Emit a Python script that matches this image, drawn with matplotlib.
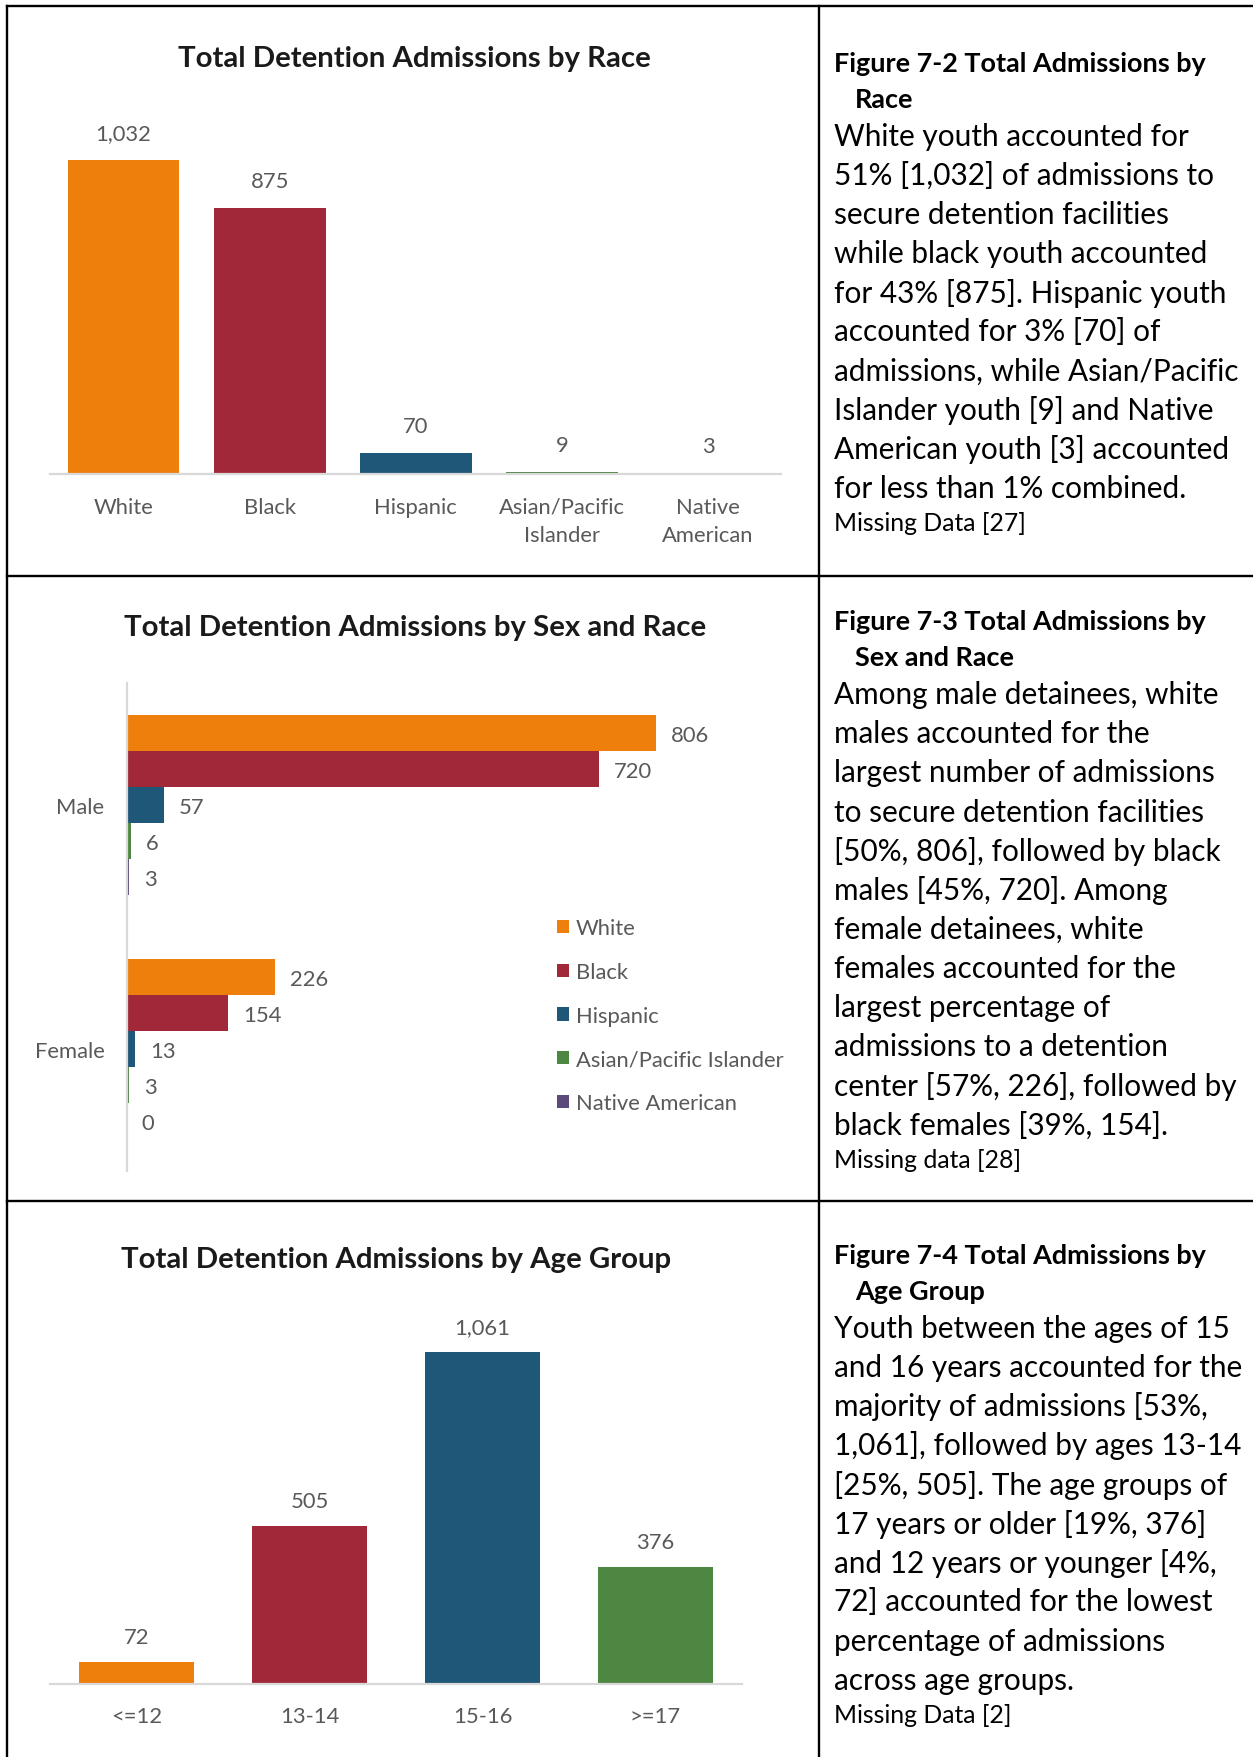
import matplotlib
matplotlib.use('Agg')
import matplotlib.pyplot as plt
from matplotlib.lines import Line2D
from matplotlib.textpath import TextPath
from matplotlib.font_manager import FontProperties
import numpy as np

# ---------------- data ----------------
race_categories = ['White', 'Black', 'Hispanic', 'Asian/Pacific\nIslander', 'Native\nAmerican']
race_totals = [1032, 875, 70, 9, 3]
race_value_labels = ['1,032', '875', '70', '9', '3']

sex_categories = ['Male', 'Female']
sex_series = ['White', 'Black', 'Hispanic', 'Asian/Pacific Islander', 'Native American']
male_values = [806, 720, 57, 6, 3]
female_values = [226, 154, 13, 3, 0]

age_categories = ['<=12', '13-14', '15-16', '>=17']
age_totals = [72, 505, 1061, 376]
age_value_labels = ['72', '505', '1,061', '376']

titles = ['Total Detention Admissions by Race',
          'Total Detention Admissions by Sex and Race',
          'Total Detention Admissions by Age Group']

headings = [('Figure 7-2 Total Admissions by', 'Race'),
            ('Figure 7-3 Total Admissions by', 'Sex and Race'),
            ('Figure 7-4 Total Admissions by', 'Age Group')]

bodies = [
    ['White youth accounted for',
     '51% [1,032] of admissions to',
     'secure detention facilities',
     'while black youth accounted',
     'for 43% [875]. Hispanic youth',
     'accounted for 3% [70] of',
     'admissions, while Asian/Pacific',
     'Islander youth [9] and Native',
     'American youth [3] accounted',
     'for less than 1% combined.'],
    ['Among male detainees, white',
     'males accounted for the',
     'largest number of admissions',
     'to secure detention facilities',
     '[50%, 806], followed by black',
     'males [45%, 720]. Among',
     'female detainees, white',
     'females accounted for the',
     'largest percentage of',
     'admissions to a detention',
     'center [57%, 226], followed by',
     'black females [39%, 154].'],
    ['Youth between the ages of 15',
     'and 16 years accounted for the',
     'majority of admissions [53%,',
     '1,061], followed by ages 13-14',
     '[25%, 505]. The age groups of',
     '17 years or older [19%, 376]',
     'and 12 years or younger [4%,',
     '72] accounted for the lowest',
     'percentage of admissions',
     'across age groups.'],
]
missing_notes = ['Missing Data [27]', 'Missing data [28]', 'Missing Data [2]']

# ---------------- style ----------------
ORANGE = '#EE7F0C'
RED = '#A12838'
BLUE = '#1F5779'
GREEN = '#4E8742'
PURPLE = '#5B4A7B'
race_colors = [ORANGE, RED, BLUE, GREEN, PURPLE]
age_colors = [ORANGE, RED, BLUE, GREEN]
GRAY_TXT = '#595959'
AXIS_GRAY = '#D9D9D9'
FONT = 'Lato'

W, H, DPI = 1253, 1758, 100
DW, DH = 1118, 1568   # layout measured on the shrunk view


def fx(x):
    return x / DW


def fy(y):
    return 1 - y / DH


def rect(x0, y0, x1, y1):
    return [fx(x0), fy(y1), (x1 - x0) / DW, (y1 - y0) / DH]


def fit(s, target_disp, weight='normal'):
    fp = FontProperties(family=FONT, weight=weight, size=100)
    w = TextPath((0, 0), s, prop=fp).get_extents().width
    target_pt = target_disp * W / DW * 72 / DPI
    return 100 * target_pt / w


FS_BODY = fit('admissions, while Asian/Pacific', 359)
FS_HEAD = fit('Figure 7-2 Total Admissions by', 330, 'bold')
FS_MISS = fit('Missing Data [27]', 167)
FS_TITLE = fit('Total Detention Admissions by Race', 421, 'bold')
FS_CHART = fit('Asian/Pacific Islander', 185)

plt.rcParams['font.family'] = [FONT, 'DejaVu Sans']

fig = plt.figure(figsize=(W / DPI, H / DPI), dpi=DPI)

# ---------------- table grid ----------------
lw = 1.7
for (x0, y0, x1, y1) in [(6, 6, 1118, 6), (6, 6, 6, 1568), (731, 6, 731, 1568),
                         (6, 515, 1118, 515), (6, 1072, 1118, 1072)]:
    fig.add_artist(Line2D([fx(x0), fx(x1)], [fy(y0), fy(y1)], color='black',
                          lw=lw, transform=fig.transFigure))


def style_axes(ax, keep):
    for side in ['top', 'right', 'left', 'bottom']:
        if side == keep:
            ax.spines[side].set_color(AXIS_GRAY)
            ax.spines[side].set_linewidth(1.6)
        else:
            ax.spines[side].set_visible(False)
    ax.tick_params(length=0, colors=GRAY_TXT, labelsize=FS_CHART)
    ax.patch.set_alpha(0)


# ---------------- panel 1: race ----------------
ax1 = fig.add_axes(rect(45, 100, 697, 424))
x = np.arange(len(race_categories))
ax1.bar(x, race_totals, width=0.766, color=race_colors)
ax1.set_xlim(-0.5, len(race_categories) - 0.5)
ax1.set_ylim(0, max(race_totals) * (424 - 100) / (424 - 144))
ax1.set_xticks(x)
ax1.set_xticklabels(race_categories, linespacing=1.5)
ax1.set_yticks([])
style_axes(ax1, 'bottom')
ax1.tick_params(axis='x', pad=16)
for xi, v, lbl in zip(x, race_totals, race_value_labels):
    ax1.annotate(lbl, (xi, v), xytext=(0, 27), textcoords='offset pixels',
                 ha='center', va='center', color=GRAY_TXT, fontsize=FS_CHART)

# ---------------- panel 2: sex and race ----------------
ax2 = fig.add_axes(rect(113, 610, 700, 1045))
h = 32 / 217
ypos = np.arange(len(sex_categories))
series_vals = list(zip(male_values, female_values))
for j, (name, col) in enumerate(zip(sex_series, race_colors)):
    vals = series_vals[j]
    yy = ypos + (j - 2) * h
    ax2.barh(yy, vals, height=h, color=col, label=name)
    for yv, v in zip(yy, vals):
        ax2.annotate(str(v), (v, yv), xytext=(15, -2), textcoords='offset pixels',
                     ha='left', va='center', color=GRAY_TXT, fontsize=FS_CHART)
ax2.set_ylim(len(sex_categories) - 0.5, -0.5)
ax2.set_xlim(0, max(male_values) * (700 - 113) / (585 - 113))
ax2.set_yticks(ypos)
ax2.set_yticklabels(sex_categories)
ax2.set_xticks([])
style_axes(ax2, 'left')
ax2.tick_params(axis='y', pad=16)
leg = ax2.legend(loc='upper left', bbox_to_anchor=(fx(497), fy(820)),
                 bbox_transform=fig.transFigure, frameon=False,
                 handlelength=0.55, handleheight=0.55, handletextpad=0.3,
                 labelspacing=1.08, borderpad=0, borderaxespad=0,
                 fontsize=FS_CHART)
for t in leg.get_texts():
    t.set_color(GRAY_TXT)

# ---------------- panel 3: age ----------------
ax3 = fig.add_axes(rect(45, 1160, 662, 1503))
xa = np.arange(len(age_categories))
ax3.bar(xa, age_totals, width=0.666, color=age_colors)
ax3.set_xlim(-0.5, len(age_categories) - 0.5)
ax3.set_ylim(0, max(age_totals) * (1503 - 1160) / (1503 - 1207))
ax3.set_xticks(xa)
ax3.set_xticklabels(age_categories)
ax3.set_yticks([])
style_axes(ax3, 'bottom')
ax3.tick_params(axis='x', pad=16)
for xi, v, lbl in zip(xa, age_totals, age_value_labels):
    ax3.annotate(lbl, (xi, v), xytext=(0, 25), textcoords='offset pixels',
                 ha='center', va='center', color=GRAY_TXT, fontsize=FS_CHART)

# ---------------- titles ----------------
for t, (cx, cy) in zip(titles, [(370, 53), (370, 560), (353, 1124)]):
    fig.text(fx(cx), fy(cy), t, ha='center', va='center', fontsize=FS_TITLE,
             fontweight='bold', color='#1a1a1a')

# ---------------- right column text ----------------
head_y = [57, 555, 1120]
body_y0 = [122, 620, 1185]
miss_y = [467, 1035, 1530]
pitch = 34.9
for k in range(3):
    fig.text(fx(744), fy(head_y[k]), headings[k][0], ha='left', va='center',
             fontsize=FS_HEAD, fontweight='bold', color='black')
    fig.text(fx(763), fy(head_y[k] + 32), headings[k][1], ha='left', va='center',
             fontsize=FS_HEAD, fontweight='bold', color='black')
    for i, line in enumerate(bodies[k]):
        fig.text(fx(744), fy(body_y0[k] + i * pitch), line, ha='left', va='center',
                 fontsize=FS_BODY, color='black')
    fig.text(fx(744), fy(miss_y[k]), missing_notes[k], ha='left', va='center',
             fontsize=FS_MISS, color='black')

fig.savefig('out.png', dpi=DPI)
